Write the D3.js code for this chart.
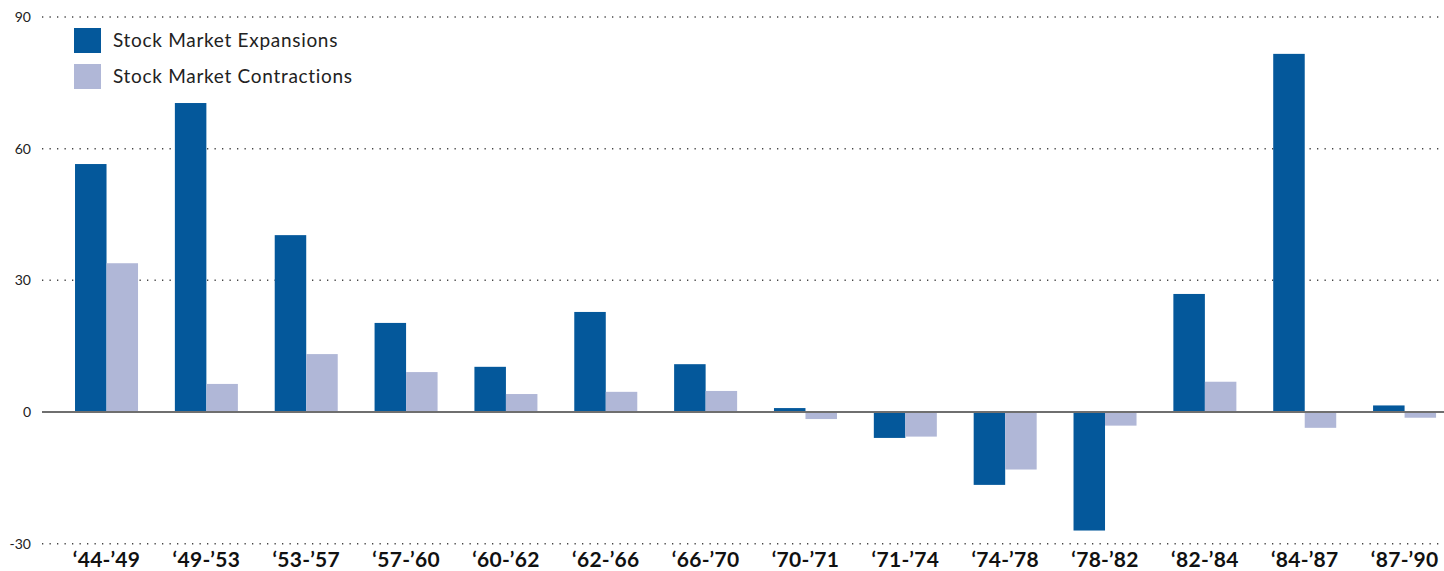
<!DOCTYPE html>
<html>
<head>
<meta charset="utf-8">
<script src="https://cdn.jsdelivr.net/npm/d3@7"></script>
<style>
  html, body { margin: 0; padding: 0; background: #fff; }
  svg { display: block; font-family: Lato, "Open Sans", sans-serif; }
</style>
</head>
<body>
<svg id="chart" width="1444" height="571"></svg>
<script>
// periods between peaks
const periods = ['‘44-’49', '‘49-’53', '‘53-’57', '‘57-’60', '‘60-’62', '‘62-’66', '‘66-’70',
                 '‘70-’71', '‘71-’74', '‘74-’78', '‘78-’82', '‘82-’84', '‘84-’87', '‘87-’90']
const expansions   = [56.5, 70.4, 40.3, 20.3, 10.3, 22.8, 10.9, 0.9, -5.9, -16.6, -27.0, 26.9, 81.6, 1.5]
const contractions = [33.9, 6.4, 13.2, 9.1, 4.1, 4.6, 4.8, -1.6, -5.6, -13.1, -3.1, 6.9, -3.6, -1.3]
const seriesNames  = ['Stock Market Expansions', 'Stock Market Contractions']
const yTicks       = [-30, 0, 30, 60, 90]

const colors = ['#04589b', '#b0b7d7']

const width = 1444, height = 571
const svg = d3.select('#chart')

const y = d3.scaleLinear().domain([-30, 90]).range([543.7, 17])

// group band then a sub band for the two series
const x = d3.scaleBand()
  .domain(periods)
  .range([56.6, 56.6 + 14 * 99.85])
  .paddingInner(0.369)
  .paddingOuter(0.1845)

const xSub = d3.scaleBand()
  .domain([0, 1])
  .range([0, x.bandwidth()])

// dotted grid lines
const grid = svg.append('g')
grid.selectAll('line')
  .data(yTicks.filter(d => d !== 0))
  .enter()
  .append('line')
    .attr('x1', 42)
    .attr('x2', width)
    .attr('y1', d => y(d))
    .attr('y2', d => y(d))
    .attr('stroke', '#444')
    .attr('stroke-width', 1.5)
    .attr('stroke-dasharray', '1.3 6.2')

// y labels
const yAxis = d3.axisLeft(y).tickValues(yTicks).tickSize(0).tickPadding(0)
const yg = svg.append('g').attr('transform', 'translate(31,0)').call(yAxis)
yg.select('.domain').remove()
yg.selectAll('text')
  .attr('font-size', 14)
  .attr('fill', '#222')
  .attr('font-family', 'Lato, sans-serif')
  .text(d => d < 0 ? '-' + Math.abs(d) : d)

// bars
const rows = periods.map((p, i) => ({ period: p, values: [expansions[i], contractions[i]] }))

const groups = svg.append('g')
  .selectAll('g')
  .data(rows)
  .enter()
  .append('g')
    .attr('transform', d => `translate(${x(d.period)},0)`)

groups.selectAll('rect')
  .data(d => d.values.map((v, k) => ({ v, k })))
  .enter()
  .append('rect')
    .attr('x', d => xSub(d.k))
    .attr('width', xSub.bandwidth())
    .attr('y', d => y(Math.max(0, d.v)))
    .attr('height', d => Math.abs(y(d.v) - y(0)))
    .attr('fill', d => colors[d.k])

// zero line
svg.append('line')
  .attr('x1', 42)
  .attr('x2', width)
  .attr('y1', y(0))
  .attr('y2', y(0))
  .attr('stroke', '#6f6f6f')
  .attr('stroke-width', 2)

// x labels
const xAxis = d3.axisBottom(x).tickSize(0).tickPadding(0)
const xg = svg.append('g').attr('transform', 'translate(0,552)').call(xAxis)
xg.select('.domain').remove()
xg.selectAll('text')
  .attr('font-size', 21)
  .attr('font-weight', 'bold')
  .attr('fill', '#111')
  .attr('font-family', 'Lato, sans-serif')
  .attr('letter-spacing', 0.3)
  .attr('dy', '0.71em')

// legend
const legend = svg.append('g').attr('transform', 'translate(74,28)')
seriesNames.forEach((name, i) => {
  const row = legend.append('g').attr('transform', `translate(0,${i * 36})`)
  row.append('rect')
    .attr('width', 27)
    .attr('height', 25)
    .attr('fill', colors[i])
  row.append('text')
    .attr('x', 39)
    .attr('y', 19)
    .attr('font-size', 19)
    .attr('letter-spacing', 0.7)
    .attr('fill', '#222')
    .text(name)
})
</script>
</body>
</html>
